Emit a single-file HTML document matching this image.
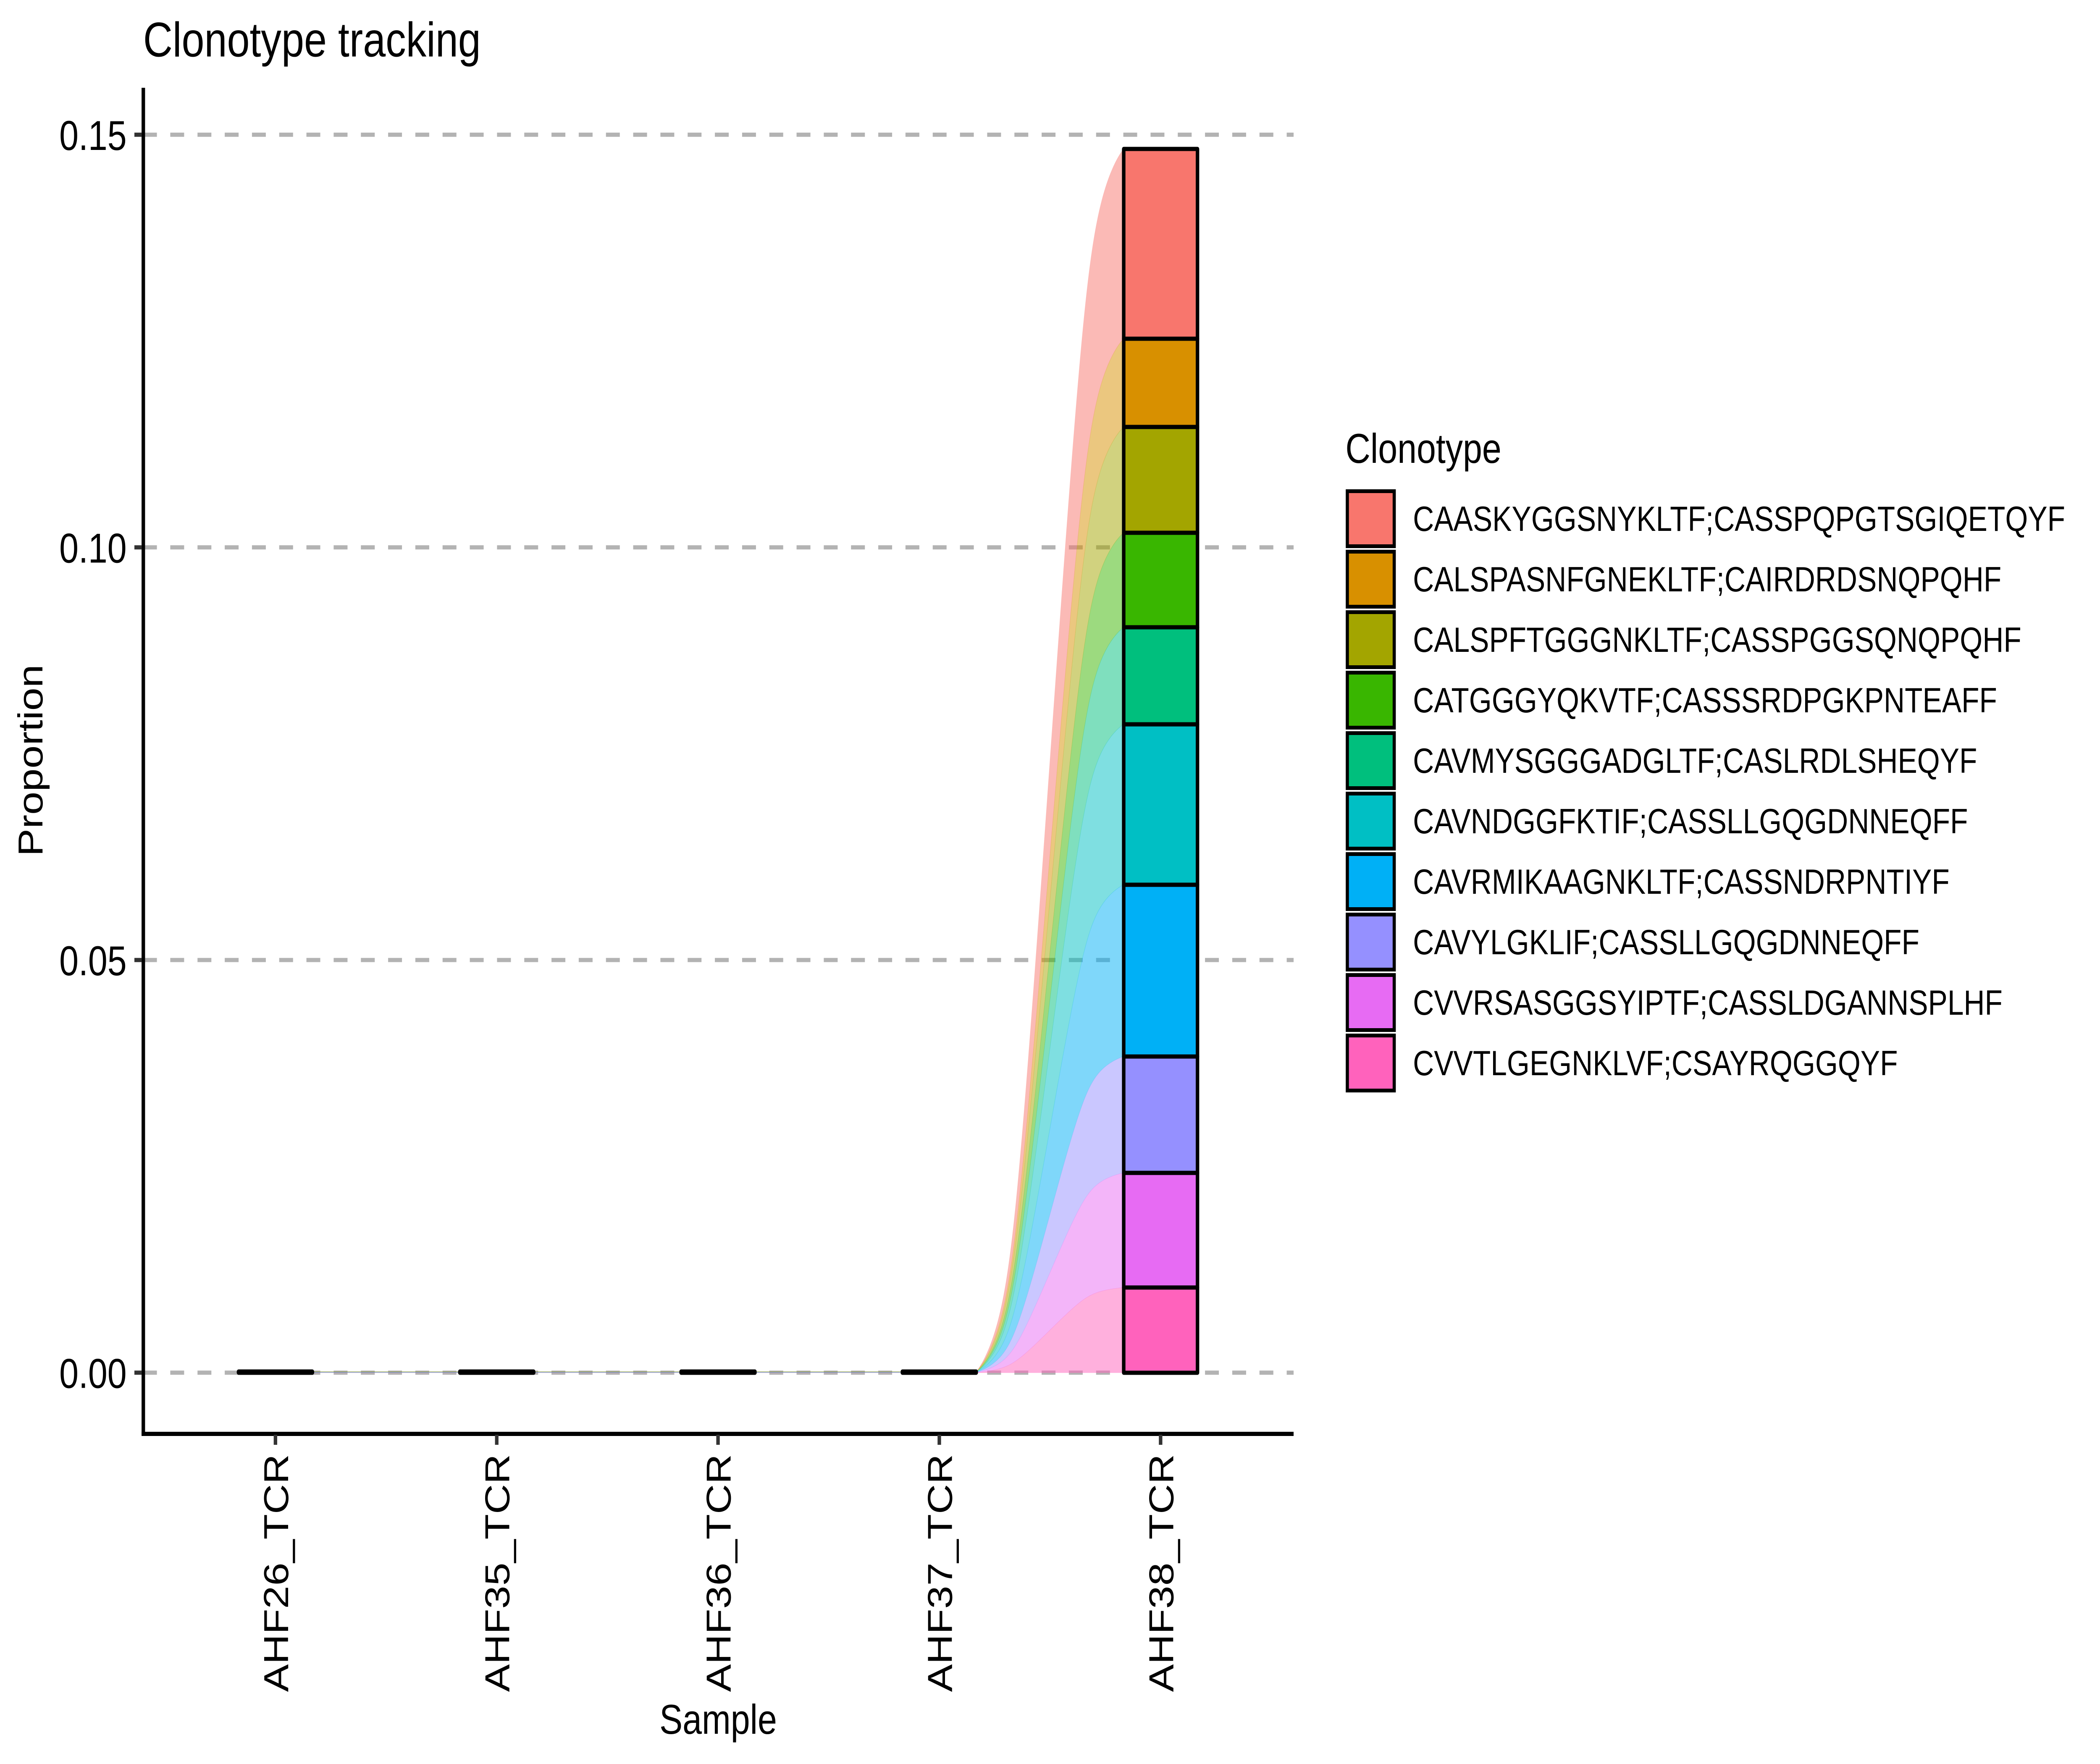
<!DOCTYPE html>
<html lang="en">
<head>
<meta charset="utf-8">
<title>Clonotype tracking</title>
<style>
html,body{margin:0;padding:0;background:#fff;width:100%;height:100%;overflow:hidden;}
svg{display:block;width:100%;height:100%;}
text{font-family:"Liberation Sans",Arial,sans-serif;fill:#000;}
</style>
</head>
<body>
<svg id="chart" xmlns="http://www.w3.org/2000/svg" viewBox="0 0 6000 4200" preserveAspectRatio="none">
  <rect x="0" y="0" width="6000" height="4200" fill="#ffffff"/>
  <g id="grid"></g>
  <g id="flows"></g>
  <g id="strata"></g>
  <g id="axes">
    <line x1="409.5" y1="209" x2="409.5" y2="3419" stroke="#000" stroke-width="10"/>
    <line x1="404.5" y1="3414" x2="3696" y2="3414" stroke="#000" stroke-width="10"/>
  </g>
  <g id="yticks"></g>
  <g id="xticks"></g>
  <text x="409" y="134.5" font-size="116.5">Clonotype tracking</text>
  <text x="2052" y="4128" font-size="99" text-anchor="middle">Sample</text>
  <text transform="translate(121 1810.5) rotate(-90)" font-size="99" text-anchor="middle">Proportion</text>
  <g id="legend">
    <text x="3844" y="1102" font-size="99">Clonotype</text>
  </g>
</svg>
<script>
const samples = ["AHF26_TCR", "AHF35_TCR", "AHF36_TCR", "AHF37_TCR", "AHF38_TCR"];
const clonotypes = [
  "CAASKYGGSNYKLTF;CASSPQPGTSGIQETQYF",
  "CALSPASNFGNEKLTF;CAIRDRDSNQPQHF",
  "CALSPFTGGGNKLTF;CASSPGGSQNQPQHF",
  "CATGGGYQKVTF;CASSSRDPGKPNTEAFF",
  "CAVMYSGGGADGLTF;CASLRDLSHEQYF",
  "CAVNDGGFKTIF;CASSLLGQGDNNEQFF",
  "CAVRMIKAAGNKLTF;CASSNDRPNTIYF",
  "CAVYLGKLIF;CASSLLGQGDNNEQFF",
  "CVVRSASGGSYIPTF;CASSLDGANNSPLHF",
  "CVVTLGEGNKLVF;CSAYRQGGQYF"
];
const fillColors = ["#F8766D", "#D89000", "#A3A500", "#39B600", "#00BF7D", "#00BFC4", "#00B0F6", "#9590FF", "#E76BF3", "#FF62BC"];
const proportionsAHF26 = [0.000015, 0.000015, 0.000015, 0.000015, 0.000015, 0.000015, 0.000015, 0.000015, 0.000015, 0.000015];
const proportionsAHF35 = [0.000015, 0.000015, 0.000015, 0.000015, 0.000015, 0.000015, 0.000015, 0.000015, 0.000015, 0.000015];
const proportionsAHF36 = [0.000015, 0.000015, 0.000015, 0.000015, 0.000015, 0.000015, 0.000015, 0.000015, 0.000015, 0.000015];
const proportionsAHF37 = [0.000015, 0.000015, 0.000015, 0.000015, 0.000015, 0.000015, 0.000015, 0.000015, 0.000015, 0.000015];
const proportionsAHF38 = [0.0230, 0.01069, 0.01282, 0.01145, 0.01176, 0.01944, 0.02081, 0.0141, 0.01389, 0.01033];
const yTickValues = [0, 0.05, 0.10, 0.15];
const yTickLabels = ["0.00", "0.05", "0.10", "0.15"];

const NS = "http://www.w3.org/2000/svg";
const proportions = [proportionsAHF26, proportionsAHF35, proportionsAHF36, proportionsAHF37, proportionsAHF38];

function xScale(i) { return 787 + i * 632.25; }
function yScale(v) { return 3268.5 - v * 19650; }
const STRATUM_HALF = 105.4;
const KNOT = 0.25;

function make(tag, attrs) {
  const el = document.createElementNS(NS, tag);
  for (const k in attrs) el.setAttribute(k, attrs[k]);
  return el;
}

/* stack boundaries: first clonotype on top */
function stackBounds(vals) {
  const out = [];
  let below = vals.reduce(function (a, b) { return a + b; }, 0);
  for (let i = 0; i < vals.length; i++) {
    const top = below;
    below -= vals[i];
    out.push({ top: top, bottom: below });
  }
  return out;
}

/* X-spline evaluation (shapes 0,1,1,0) */
function fBlend(num, den) {
  const p = 2 * den * den, u = num / den, u2 = u * u;
  return u * u2 * (10 - p + (2 * p - 15) * u + (6 - p) * u2);
}
function segPoint(t, s1, s2, v) {
  const A0 = (t < s1) ? fBlend(t - s1, -1 - s1) : 0;
  const A2 = fBlend(t + s1, 1 + s1);
  const A1 = fBlend(t - 1 - s2, -1 - s2);
  const A3 = (t > 1 - s2) ? fBlend(t - 1 + s2, 1 + s2) : 0;
  const w = A0 + A1 + A2 + A3;
  return (A0 * v[0] + A1 * v[1] + A2 * v[2] + A3 * v[3]) / w;
}
function xspline(cp) {
  const segs = [
    { v: [cp[0], cp[0], cp[1], cp[2]], s1: 0, s2: 1 },
    { v: [cp[0], cp[1], cp[2], cp[3]], s1: 1, s2: 1 },
    { v: [cp[1], cp[2], cp[3], cp[3]], s1: 1, s2: 0 }
  ];
  const out = [];
  const steps = 60;
  segs.forEach(function (s) {
    for (let j = 0; j < steps; j++) out.push(segPoint(j / steps, s.s1, s.s2, s.v));
  });
  out.push(cp[3]);
  return out;
}
function flowPath(i, c) {
  const x0 = xScale(i) + STRATUM_HALF, x1 = xScale(i + 1) - STRATUM_HALF;
  const d = x1 - x0;
  const xs = xspline([x0, x0 + KNOT * d, x1 - KNOT * d, x1]);
  const a = stackBounds(proportions[i])[c], b = stackBounds(proportions[i + 1])[c];
  const ta = yScale(a.top), tb = yScale(b.top), ba = yScale(a.bottom), bb = yScale(b.bottom);
  const tops = xspline([ta, ta, tb, tb]);
  const bots = xspline([ba, ba, bb, bb]);
  let p = "M";
  for (let k = 0; k < xs.length; k++) p += xs[k].toFixed(2) + " " + tops[k].toFixed(2) + " L";
  for (let k = xs.length - 1; k >= 0; k--) p += xs[k].toFixed(2) + " " + bots[k].toFixed(2) + (k ? " L" : " Z");
  return p;
}

/* gridlines */
const gridG = document.getElementById("grid");
yTickValues.forEach(function (v) {
  const line = make("line", { x1: 408.7, x2: 3696, y1: yScale(v) - 0.2, y2: yScale(v) - 0.2, stroke: "#b3b3b3", "stroke-width": 10, "stroke-dasharray": "39.6 38.2" });
  
  
  gridG.appendChild(line);
});

/* alluvial flows */
const flowsG = document.getElementById("flows");
for (let i = 0; i < samples.length - 1; i++) {
  clonotypes.forEach(function (name, c) {
    const path = make("path", { d: flowPath(i, c), fill: fillColors[c], "fill-opacity": 0.5, stroke: fillColors[c], "stroke-opacity": 0.18, "stroke-width": 1 });
    
    
    flowsG.appendChild(path);
  });
}

/* strata */
const strataG = document.getElementById("strata");
samples.forEach(function (s, i) {
  const bounds = stackBounds(proportions[i]);
  bounds.forEach(function (b, c) {
    const l = xScale(i) - STRATUM_HALF, r = xScale(i) + STRATUM_HALF;
    const t = yScale(b.top), bt = yScale(b.bottom);
    const seg = make("path", { d: "M" + l + " " + t + " H" + r + " V" + bt + " H" + l + " Z", fill: fillColors[c], stroke: "#000", "stroke-width": 10, "stroke-linejoin": "round" });
    
    
    strataG.appendChild(seg);
  });
});

/* y ticks */
const yG = document.getElementById("yticks");
yTickValues.forEach(function (v, i) {
  const tick = make("line", { x1: 384, x2: 405, y1: yScale(v) - 0.2, y2: yScale(v) - 0.2, stroke: "#333333", "stroke-width": 10 });
  
  
  yG.appendChild(tick);
  const label = make("text", { x: 362, y: yScale(v) + 36, "font-size": 99, "text-anchor": "end" });
  
  
  label.textContent = yTickLabels[i];
  yG.appendChild(label);
});

/* x ticks */
const xG = document.getElementById("xticks");
samples.forEach(function (s, i) {
  const tick = make("line", { x1: xScale(i), x2: xScale(i), y1: 3416, y2: 3440, stroke: "#333333", "stroke-width": 10 });
  
  
  xG.appendChild(tick);
  const label = make("text", { transform: "translate(" + (xScale(i) + 36) + " 3462) rotate(-90)", "font-size": 99, "text-anchor": "end" });
  
  
  label.textContent = s;
  xG.appendChild(label);
});

/* legend */
const legendG = document.getElementById("legend");
clonotypes.forEach(function (name, c) {
  const y0 = 1165 + 144 * c;
  const key = make("rect", { x: 3849.5, y: y0 + 4.5, width: 134, height: 131, fill: fillColors[c], stroke: "#000", "stroke-width": 9 });
  
  
  legendG.appendChild(key);
  const label = make("text", { x: 4037, y: y0 + 99, "font-size": 83.3 });
  
  
  label.textContent = name;
  legendG.appendChild(label);
});
</script>
</body>
</html>
